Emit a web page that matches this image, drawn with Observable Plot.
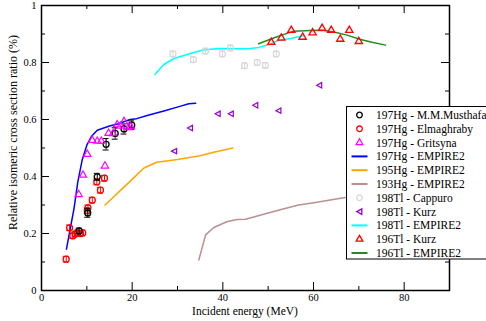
<!DOCTYPE html>
<html>
<head>
<meta charset="utf-8">
<script src="https://cdn.jsdelivr.net/npm/d3@7"></script>
<script src="https://cdn.jsdelivr.net/npm/@observablehq/plot@0.6"></script>
<style>
  html, body { margin: 0; padding: 0; background: white; }
  #chart { width: 486px; height: 321px; }
</style>
</head>
<body>
<div id="chart"></div>
<script>
// ---- data (energy MeV, ratio, error) ----
const hg197Musthafa = [[8.3,0.209,0.01],[10.2,0.272,0.015],[12.3,0.399,0.012],[14.25,0.513,0.02],[16.25,0.551,0.02],[18.2,0.567,0.018],[19.9,0.58,0.015]];
const hg197Elmaghraby = [[5.45,0.11,0.01],[6.2,0.22,0.01],[6.9,0.192,0.01],[7.4,0.198,0.01],[7.9,0.202,0.01],[8.6,0.2,0.01],[9.1,0.202,0.01],[10.1,0.28,0.01],[10.25,0.29,0.01],[11.2,0.317,0.01],[12.2,0.381,0.01],[13.0,0.352,0.01],[13.9,0.394,0.01]];
const hg197Gritsyna = [[8.2,0.337],[9.15,0.405],[10.1,0.478],[11.2,0.527],[12.3,0.524],[13.2,0.524],[14,0.437],[14.8,0.552],[15.8,0.551],[16.7,0.582],[17.4,0.577],[18.2,0.593],[19.2,0.572],[19.7,0.575]];
const hg197Empire = [[5.5,0.145],[6.5,0.23],[7.2,0.29],[8,0.38],[9,0.46],[10,0.51],[11,0.54],[12.3,0.562],[15,0.577],[17,0.585],[19.5,0.6],[21,0.603],[23.3,0.614],[27,0.63],[30.7,0.647],[32.5,0.655],[34,0.657]];
const hg195Empire = [[14,0.30],[16,0.33],[18,0.36],[20,0.39],[22.6,0.43],[25.4,0.45],[30,0.46],[35,0.473],[38,0.485],[42.2,0.50]];
const hg193Empire = [[34.7,0.107],[36.2,0.195],[38,0.221],[41,0.242],[43.2,0.249],[45,0.25],[51.2,0.277],[56.7,0.30],[60.1,0.308],[67,0.326]];
const tl198Cappuro = [[29,0.83,0.01],[33.5,0.81,0.01],[36.2,0.84,0.01],[39.9,0.83,0.01],[41.7,0.851,0.01],[44.8,0.789,0.01],[47.6,0.80,0.01],[49.4,0.79,0.01],[51.8,0.83,0.01]];
const tl198Kurz = [[29.3,0.489],[32.8,0.57],[38.9,0.62],[41.8,0.62],[47.2,0.65],[52.3,0.631],[61.3,0.72]];
const tl198Empire = [[25,0.758],[27,0.793],[29.2,0.814],[32.5,0.83],[35.4,0.843],[38.8,0.849],[44,0.848],[46,0.849],[48,0.853],[50,0.862],[52.3,0.878],[55,0.884],[58,0.895]];
const tl196Kurz = [[50.7,0.871],[52.9,0.886],[55.1,0.913],[57.6,0.889],[59.8,0.904],[61.9,0.92],[63.9,0.913],[65.9,0.882],[67.9,0.913],[70,0.874]];
const tl196Empire = [[47.9,0.866],[51.2,0.886],[55.6,0.91],[59.3,0.912],[61.9,0.913],[64.5,0.907],[67.4,0.896],[70.4,0.881],[72.9,0.871],[75.9,0.861]];

const xMajor = [0,20,40,60,80], xMinor = [10,30,50,70];
const yMajor = [0,0.2,0.4,0.6,0.8,1], yMinor = [0.1,0.3,0.5,0.7,0.9];
const xLabel = "Incident energy (MeV)";
const yLabel = "Relative isomeric cross section ratio (%)";

const C = {
  black:"#000000", red:"#ff0000", magenta:"#ff00ff", blue:"#0000ff", orange:"#ffa500",
  brown:"#bc8f8f", gray:"#d8d8d8", purple:"#9400d3", cyan:"#00ffff", green:"#228b22"
};

const W = 486, H = 321, mL = 41, mR = 37, mT = 5, mB = 31;
const xDom = [0,90], yDom = [0,1];
const pxX = (W - mL - mR) / (xDom[1]-xDom[0]);
const pxY = (H - mT - mB) / (yDom[1]-yDom[0]);
const capHalf = 3 / pxX;
const tMaj = 8, tMin = 4;
const FONT = "'Liberation Serif', serif";

const leftTri = {
  draw(ctx, size) {
    const r = Math.sqrt(size / Math.PI);
    ctx.moveTo(-r, 0);
    ctx.lineTo(r * 0.85, -r);
    ctx.lineTo(r * 0.85, r);
    ctx.closePath();
  }
};

const toObj = a => a.map(d => ({x:d[0], y:d[1], e:d[2] ?? 0}));
function errMarks(arr, color) {
  const d = toObj(arr);
  return [
    Plot.ruleX(d, {x:"x", y1: v => v.y - v.e, y2: v => v.y + v.e, stroke: color, strokeWidth: 1}),
    Plot.ruleY(d, {y: v => v.y - v.e, x1: v => v.x - capHalf, x2: v => v.x + capHalf, stroke: color, strokeWidth: 1}),
    Plot.ruleY(d, {y: v => v.y + v.e, x1: v => v.x - capHalf, x2: v => v.x + capHalf, stroke: color, strokeWidth: 1})
  ];
}

const tickRules = [
  Plot.ruleX(xMajor, {x: d => d, y1: 0, y2: tMaj/pxY, stroke:"black", strokeWidth:1}),
  Plot.ruleX(xMinor, {x: d => d, y1: 0, y2: tMin/pxY, stroke:"black", strokeWidth:1}),
  Plot.ruleX(xMajor, {x: d => d, y1: 1, y2: 1 - tMaj/pxY, stroke:"black", strokeWidth:1}),
  Plot.ruleX(xMinor, {x: d => d, y1: 1, y2: 1 - tMin/pxY, stroke:"black", strokeWidth:1}),
  Plot.ruleY(yMajor, {y: d => d, x1: 0, x2: tMaj/pxX, stroke:"black", strokeWidth:1}),
  Plot.ruleY(yMinor, {y: d => d, x1: 0, x2: tMin/pxX, stroke:"black", strokeWidth:1}),
  Plot.ruleY(yMajor, {y: d => d, x1: 90, x2: 90 - tMaj/pxX, stroke:"black", strokeWidth:1}),
  Plot.ruleY(yMinor, {y: d => d, x1: 90, x2: 90 - tMin/pxX, stroke:"black", strokeWidth:1})
];

const lineOpt = (c) => ({x: d => d[0], y: d => d[1], stroke: c, strokeWidth: 1.5});

const chart = Plot.plot({
  width: W, height: H,
  marginLeft: mL, marginRight: mR, marginTop: mT, marginBottom: mB,
  x: {domain: xDom},
  y: {domain: yDom},
  style: {fontFamily: FONT, background: "white", color: "black"},
  marks: [
    Plot.axisX({ticks: xMajor, tickSize: 0, tickPadding: 3, fontSize: 10.5, label: null, tickFormat: d => String(d)}),
    Plot.axisY({ticks: yMajor, tickSize: 0, tickPadding: 5, fontSize: 10.5, label: null, tickFormat: d => String(+d.toFixed(1))}),
    ...tickRules,
    Plot.line(hg193Empire, lineOpt(C.brown)),
    Plot.line(hg195Empire, lineOpt(C.orange)),
    Plot.line(hg197Empire, lineOpt(C.blue)),
    Plot.line(tl198Empire, lineOpt(C.cyan)),
    Plot.line(tl196Empire, lineOpt(C.green)),
    ...errMarks(tl198Cappuro, C.gray),
    Plot.dot(tl198Cappuro, {x: d => d[0], y: d => d[1], r: 3, stroke: C.gray, strokeWidth: 1.2, fill: "none"}),
    ...errMarks(hg197Elmaghraby, C.red),
    Plot.dot(hg197Elmaghraby, {x: d => d[0], y: d => d[1], r: 3, stroke: C.red, strokeWidth: 1.3, fill: "none"}),
    ...errMarks(hg197Musthafa, C.black),
    Plot.dot(hg197Musthafa, {x: d => d[0], y: d => d[1], r: 3, stroke: C.black, strokeWidth: 1.3, fill: "none"}),
    Plot.dot(hg197Gritsyna, {x: d => d[0], y: d => d[1], r: 2.7, symbol: "triangle", stroke: C.magenta, strokeWidth: 1.2, fill: "none"}),
    Plot.dot(tl198Kurz, {x: d => d[0], y: d => d[1], r: 2.7, symbol: leftTri, stroke: C.purple, strokeWidth: 1.2, fill: "none"}),
    Plot.dot(tl196Kurz, {x: d => d[0], y: d => d[1], r: 2.7, symbol: "triangle", stroke: C.red, strokeWidth: 1.3, fill: "none"}),
    Plot.frame({stroke: "black", strokeWidth: 1.5})
  ]
});
document.getElementById("chart").appendChild(chart);

// axis titles
const svg = d3.select(chart);
svg.append("text").attr("x", mL + (W - mL - mR)/2).attr("y", 314.5)
  .attr("text-anchor", "middle").style("font-size", "11.5px").style("font-family", FONT).text(xLabel);
svg.append("text").attr("transform", "translate(16.5,132.5) rotate(-90)")
  .attr("text-anchor", "middle").style("font-size", "12px").style("font-family", FONT).text(yLabel);

// legend
const legendItems = [
  {label:"197Hg - M.M.Musthafa", color:C.black, type:"circle"},
  {label:"197Hg - Elmaghraby", color:C.red, type:"circle"},
  {label:"197Hg - Gritsyna", color:C.magenta, type:"tri"},
  {label:"197Hg - EMPIRE2", color:C.blue, type:"line"},
  {label:"195Hg - EMPIRE2", color:C.orange, type:"line"},
  {label:"193Hg - EMPIRE2", color:C.brown, type:"line"},
  {label:"198Tl - Cappuro", color:C.gray, type:"circle"},
  {label:"198Tl - Kurz", color:C.purple, type:"ltri"},
  {label:"198Tl - EMPIRE2", color:C.cyan, type:"line"},
  {label:"196Tl - Kurz", color:C.red, type:"tri"},
  {label:"196Tl - EMPIRE2", color:C.green, type:"line"}
];
const lg = svg.append("g");
lg.append("rect").attr("x", 346.5).attr("y", 106.5).attr("width", 150).attr("height", 152.5)
  .attr("fill", "white").attr("stroke", "black").attr("stroke-width", 1);
legendItems.forEach((it, i) => {
  const y = 115 + i * 13.8;
  const g = lg.append("g").attr("transform", `translate(359.5,${y})`);
  if (it.type === "line") {
    g.append("line").attr("x1", -8).attr("x2", 8).attr("y1", 0).attr("y2", 0)
      .attr("stroke", it.color).attr("stroke-width", 2);
  } else if (it.type === "circle") {
    g.append("circle").attr("r", 2.8).attr("fill", "none").attr("stroke", it.color).attr("stroke-width", 1.3);
  } else if (it.type === "tri") {
    g.append("path").attr("d", d3.symbol(d3.symbolTriangle, Math.PI*2.5*2.5)()).attr("fill", "none")
      .attr("stroke", it.color).attr("stroke-width", 1.3);
  } else {
    g.append("path").attr("d", d3.symbol(leftTri, Math.PI*2.7*2.7)()).attr("fill", "none")
      .attr("stroke", it.color).attr("stroke-width", 1.3);
  }
  lg.append("text").attr("x", 376).attr("y", y).attr("dy", "0.35em")
    .attr("text-anchor", "start")
    .style("font-size", "11.5px").style("font-family", FONT).text(it.label);
});
</script>
</body>
</html>
